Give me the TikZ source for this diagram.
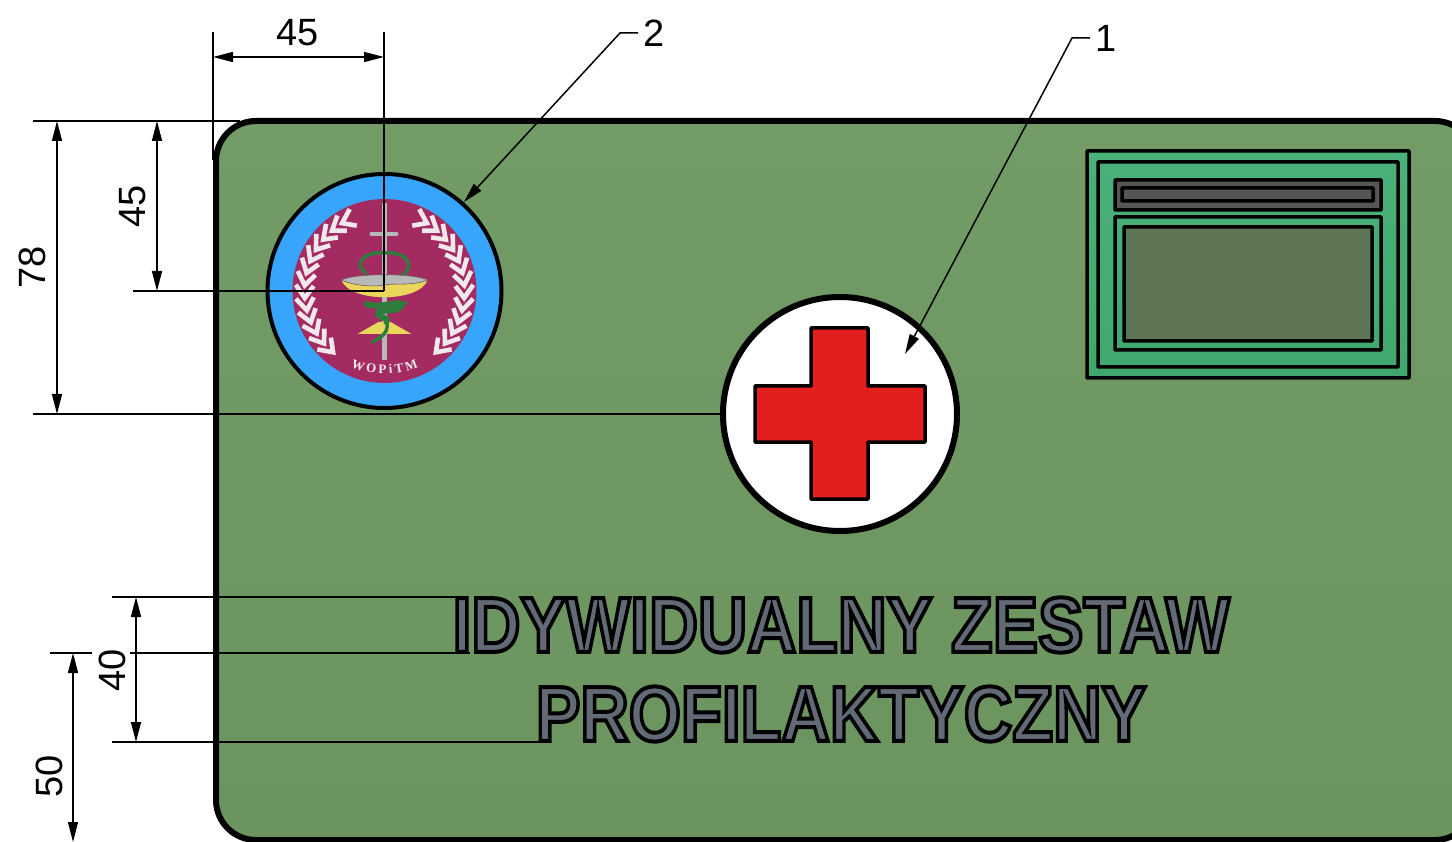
\documentclass[tikz,border=0pt]{standalone}
\usepackage{fontspec}
\setmainfont{Liberation Sans}
\newfontfamily\badgefont{Liberation Serif}
\usetikzlibrary{arrows.meta,decorations.text,calc}
\definecolor{bodyTop}{HTML}{729B66}
\definecolor{bodyBottom}{HTML}{6B945E}
\definecolor{winTop}{HTML}{4BB07A}
\definecolor{winBottom}{HTML}{40A86F}
\definecolor{winDark}{HTML}{5E7655}
\definecolor{slotGrey}{HTML}{555555}
\definecolor{textGrey}{HTML}{626A76}
\definecolor{skyBlue}{HTML}{38A5FD}
\definecolor{crimson}{HTML}{A42B62}
\definecolor{snakeGreen}{HTML}{2F7D3C}
\definecolor{bowlYellow}{HTML}{EBD65C}
\definecolor{swordGrey}{HTML}{B8B8B8}
\definecolor{edgeGrey}{HTML}{6E5A64}
\definecolor{crossRed}{HTML}{E31E1E}
\definecolor{leafWhite}{HTML}{F0E8EC}
\tikzset{
  dimtip/.tip={Triangle[length=20pt,width=10pt]},
  dimline/.style={line width=1.5pt,dimtip-dimtip},
  extline/.style={line width=1.5pt},
  leader/.style={line width=1.5pt,-dimtip},
  dimlabel/.style={font=\fontsize{38}{38}\selectfont,inner sep=0pt},
  winframe/.style={draw=black,line width=3.5pt,rounded corners=0.5pt},
  laurel/.style={draw=leafWhite,line width=4.6pt,line join=miter},
  platetext/.style={font=\fontsize{78}{78}\bfseries\selectfont,inner sep=0pt,text=textGrey}
}
\newcommand{\outlined}[2]{\scalebox{#1}[1]{\special{pdf:code 0 0 0 RG 4 w 2 Tr}#2\special{pdf:code 0 Tr}}}
\begin{document}
\begin{tikzpicture}[x=1pt,y=-1pt]
\useasboundingbox (0,0) rectangle (1452,842);
% plate
\fill[white] (0,0) rectangle (1452,842);
\begin{scope}
\clip (0,0) rectangle (1452,842);
\draw[top color=bodyTop,bottom color=bodyBottom,line width=6pt,rounded corners=40pt] (216,121) rectangle (1475,840);
\end{scope}
% window
\draw[winframe,top color=winTop,bottom color=winBottom] (1087,151) rectangle (1409,378);
\draw[winframe] (1098,162) rectangle (1398,367);
\draw[winframe,fill=slotGrey] (1115,180) rectangle (1381,210);
\draw[winframe] (1122,188) rectangle (1373,201);
\draw[winframe] (1115,217) rectangle (1381,350);
\draw[winframe,fill=winDark] (1124,227) rectangle (1372,341);
% emblem
\node[circle,draw=black,line width=4pt,fill=skyBlue,minimum size=234pt,inner sep=0pt] (emblem) at (384.5,291) {};
\begin{scope}[shift={(384.5,291)},y=1pt]
  \fill[crimson] (0,0) circle[radius=92];
  \foreach \a in {122,131,...,232}{
    \draw[laurel] (\a-9:89) -- (\a:80) -- (\a-9:71);
    \draw[laurel] (180-\a+9:89) -- (180-\a:80) -- (180-\a+9:71);
  }
  \draw[swordGrey,line width=4.5pt] (0,88) -- (0,-69);
  \draw[swordGrey,line width=4pt,line cap=round] (-13,57) -- (12,57);
  \draw[snakeGreen,line width=3.5pt] (-18,17) .. controls (-34,30) and (-16,40) .. (0,38) .. controls (16,40) and (34,30) .. (18,15);
  \fill[bowlYellow] (-43,11) .. controls (-35,-12) and (35,-12) .. (43,11) -- cycle;
  \fill[swordGrey,draw=edgeGrey,line width=0.6pt] (-43,11) .. controls (-30,18) and (30,18) .. (43,11) .. controls (30,5) and (10,8) .. (0,6) .. controls (-10,4) and (-30,5) .. (-43,11) -- cycle;
  \fill[bowlYellow] (-27,-43) -- (-6,-31) -- (6,-31) -- (27,-43) -- cycle;
  \draw[snakeGreen,line width=6pt,line cap=round] (-18,-13) .. controls (-5,-18) and (10,-10) .. (18,-13)
     .. controls (14,-24) and (-10,-16) .. (-6,-24) .. controls (-2,-28) and (4,-26) .. (2,-31);
  \draw[snakeGreen,line width=3.5pt,line cap=round] (2,-31) .. controls (5,-40) and (-2,-46) .. (-12,-51);
  \path[decorate,decoration={text along path,text align={fit to path},
     text={|\badgefont\bfseries\fontsize{13}{13}\selectfont\color{leafWhite}|WOPiTM}}]
     (246:83) arc[start angle=246,end angle=294,radius=83];
\end{scope}
% cross badge
\node[circle,draw=black,line width=6pt,fill=white,minimum size=234pt,inner sep=0pt] (badge) at (840,414) {};
\draw[fill=crossRed,line width=3.5pt,rounded corners=0.5pt]
  (811,328) -- (868,328) -- (868,386) -- (925,386) -- (925,442) -- (868,442) -- (868,499) -- (811,499) -- (811,442) -- (755,442) -- (755,386) -- (811,386) -- cycle;
% plate text
\node[platetext] (line1) at (841,625) {\outlined{0.872}{IDYWIDUALNY ZESTAW}};
\node[platetext] (line2) at (841,714) {\outlined{0.859}{PROFILAKTYCZNY}};
% dimensions
\coordinate (t1) at (213,32); \coordinate (t1b) at (213,160);
\coordinate (t2) at (384,32); \coordinate (t2b) at (384,291);
\coordinate (da) at (213,57); \coordinate (db) at (384,57);
\draw[extline] (t1) -- (t1b);
\draw[extline] (t2) -- (t2b);
\draw[dimline] (da) -- (db);
\node[dimlabel] (lab45a) at (298,33) {45};
\coordinate (e1) at (33,121); \coordinate (e1b) at (240,121);
\coordinate (e2) at (33,414); \coordinate (e2b) at (722,414);
\draw[extline] (e1) -- (e1b);
\draw[extline] (e2) -- (e2b);
\coordinate (f1) at (57,121); \coordinate (f2) at (57,414);
\draw[dimline] (f1) -- (f2);
\node[dimlabel,rotate=90] (lab78) at (32,267) {78};
\coordinate (g1) at (157,121); \coordinate (g2) at (157,291);
\coordinate (g3) at (133,291);
\draw[dimline] (g1) -- (g2);
\draw[extline] (g3) -- (t2b);
\node[dimlabel,rotate=90] (lab45b) at (133,206) {45};
\coordinate (h1) at (112,597); \coordinate (h1b) at (456,597);
\coordinate (h2) at (112,742); \coordinate (h2b) at (539,742);
\draw[extline] (h1) -- (h1b);
\draw[extline] (h2) -- (h2b);
\coordinate (i1) at (136,597); \coordinate (i2) at (136,742);
\draw[dimline] (i1) -- (i2);
\node[dimlabel,rotate=90] (lab40) at (112,670) {40};
\coordinate (j1) at (50,653); \coordinate (j1b) at (92,653);
\coordinate (j2) at (130,653); \coordinate (j2b) at (470,653);
\draw[extline] (j1) -- (j1b);
\draw[extline] (j2) -- (j2b);
\coordinate (k1) at (73,653); \coordinate (k2) at (73,842);
\draw[dimline] (k1) -- (k2);
\node[dimlabel,rotate=90] (lab50) at (49,776) {50};
% leaders
\coordinate (l2a) at (638,33); \coordinate (l2b) at (620,33); \coordinate (l2c) at (464,202);
\draw[leader] (l2a) -- (l2b) -- (l2c);
\node[dimlabel] (lab2) at (654.5,33) {2};
\coordinate (l1a) at (1090,38); \coordinate (l1b) at (1072,38); \coordinate (l1c) at (905,354);
\draw[leader] (l1a) -- (l1b) -- (l1c);
\node[dimlabel] (lab1) at (1106.5,38) {1};
\end{tikzpicture}
\end{document}
